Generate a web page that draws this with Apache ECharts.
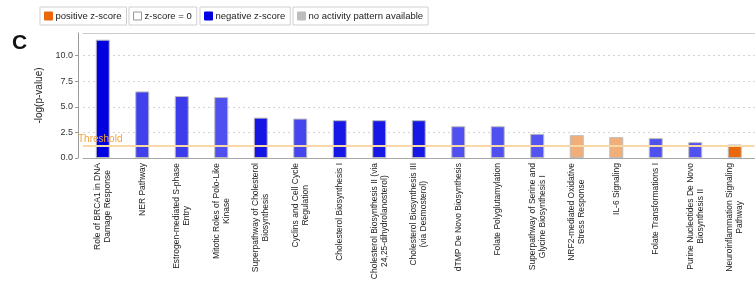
<!DOCTYPE html>
<html>
<head>
<meta charset="utf-8">
<script src="https://cdn.jsdelivr.net/npm/echarts@6/dist/echarts.min.js"></script>
<style>
  html, body { margin: 0; padding: 0; background: #fff; }
  #chart { width: 756px; height: 296px; }
</style>
</head>
<body>
<div id="chart"></div>
<script>
  // pathways, in the order they are drawn
  var pathways = [
    'Role of BRCA1 in DNA\nDamage Response',
    'NER Pathway',
    'Estrogen-mediated S-phase\nEntry',
    'Mitotic Roles of Polo-Like\nKinase',
    'Superpathway of Cholesterol\nBiosynthesis',
    'Cyclins and Cell Cycle\nRegulation',
    'Cholesterol Biosynthesis I',
    'Cholesterol Biosynthesis II (via\n24,25-dihydrolanosterol)',
    'Cholesterol Biosynthesis III\n(via Desmosterol)',
    'dTMP De Novo Biosynthesis',
    'Folate Polyglutamylation',
    'Superpathway of Serine and\nGlycine Biosynthesis I',
    'NRF2-mediated Oxidative\nStress Response',
    'IL-6 Signaling',
    'Folate Transformations I',
    'Purine Nucleotides De Novo\nBiosynthesis II',
    'Neuroinflammation Signaling\nPathway'
  ];
  // -log(p-value)
  var logP = [11.55, 6.5, 6.05, 5.95, 3.94, 3.85, 3.69, 3.69, 3.69, 3.1, 3.1, 2.36, 2.23, 2.04, 1.94, 1.55, 1.32];
  var threshold = 1.2;
  var yTicks = [0, 2.5, 5, 7.5, 10];
  var legendNames = ['positive z-score', 'z-score = 0', 'negative z-score', 'no activity pattern available'];

  // z-score shading per bar (kept apart from the values)
  var barShade = ['#0000e0', '#4040ec', '#3c3cec', '#5050f0', '#1414e4', '#4646ee', '#1818e6', '#1818e6', '#1818e6',
    '#5050f0', '#5050f0', '#5454f0', '#f2ae78', '#f2ae78', '#5050f0', '#5252f0', '#e8680a'];
  var legendColors = ['#e8680a', '#ffffff', '#0000e6', '#bdbdbd'];
  var legendLeft = [40, 129, 200, 293];

  var font = "'Liberation Sans', Arial, sans-serif";
  var chart = echarts.init(document.getElementById('chart'));

  var legends = legendNames.map(function (name, i) {
    return {
      left: legendLeft[i],
      top: 7,
      orient: 'horizontal',
      selectedMode: false,
      borderColor: '#cfcfcf',
      borderWidth: 1,
      padding: [4, 5, 4, 4],
      icon: 'rect',
      itemWidth: 8,
      itemHeight: 8,
      textStyle: { fontFamily: font, fontSize: 9.5, color: '#222', padding: [0, 0, 0, -2] },
      data: [{
        name: name,
        itemStyle: { color: legendColors[i], borderColor: i === 1 ? '#999' : legendColors[i], borderWidth: 1 }
      }]
    };
  });

  // empty series only to feed the legends
  var legendSeries = legendNames.map(function (name, i) {
    return { name: name, type: 'line', data: [], itemStyle: { color: legendColors[i] } };
  });

  var option = {
    animation: false,
    title: {
      text: 'C',
      left: 7,
      top: 28,
      textStyle: { fontFamily: font, fontSize: 21, fontWeight: 'bold', color: '#111' }
    },
    legend: legends,
    grid: { left: 83, right: 1.5, top: 33, bottom: 138, containLabel: false },
    xAxis: [{
      type: 'category',
      data: pathways,
      axisLine: { lineStyle: { color: '#a8a8a8', width: 1 } },
      axisTick: { show: false },
      axisLabel: {
        interval: 0,
        rotate: 90,
        margin: 5,
        fontFamily: font,
        fontSize: 8.5,
        color: '#222',
        formatter: function (v) {
          return v.split('\n').map(function (s) { return '{c|' + s + '}'; }).join('\n');
        },
        rich: {
          c: { align: 'center', fontFamily: font, fontSize: 8.5, lineHeight: 10, color: '#222' }
        }
      }
    }, {
      // top edge of the plot box
      type: 'category',
      position: 'top',
      data: pathways,
      axisLine: { lineStyle: { color: '#cccccc' } },
      axisTick: { show: false },
      axisLabel: { show: false }
    }],
    yAxis: {
      type: 'value',
      min: 0,
      max: 12.2,
      interval: 2.5,
      offset: 5,
      name: '-log(p-value)',
      nameLocation: 'middle',
      nameGap: 31,
      nameTextStyle: { fontFamily: font, fontSize: 10, color: '#222' },
      axisLine: { show: true, lineStyle: { color: '#9a9a9a' } },
      axisTick: { show: true, length: 3, lineStyle: { color: '#9a9a9a' } },
      axisLabel: {
        fontFamily: font,
        fontSize: 9,
        color: '#333',
        margin: 5,
        showMaxLabel: false,
        formatter: function (v) {
          return yTicks.indexOf(v) >= 0 ? v.toFixed(1) : '';
        }
      },
      splitLine: { show: true, lineStyle: { color: '#d4d4d4', type: [2, 3] } }
    },
    series: legendSeries.concat([{
      name: 'pathways',
      type: 'bar',
      barWidth: 14,
      data: logP.map(function (v, i) {
        return { value: v, itemStyle: { color: barShade[i] } };
      }),
      itemStyle: { borderColor: '#bcbcbc', borderWidth: 1 },
      markLine: {
        silent: true,
        symbol: 'none',
        data: [{ yAxis: threshold }],
        lineStyle: { color: '#f8d8a6', width: 2, type: 'solid' },
        label: {
          position: 'insideStartTop',
          formatter: 'Threshold',
          fontFamily: font,
          fontSize: 10,
          color: '#f3a43c',
          distance: [-5, 1]
        }
      }
    }])
  };

  chart.setOption(option);
</script>
</body>
</html>
